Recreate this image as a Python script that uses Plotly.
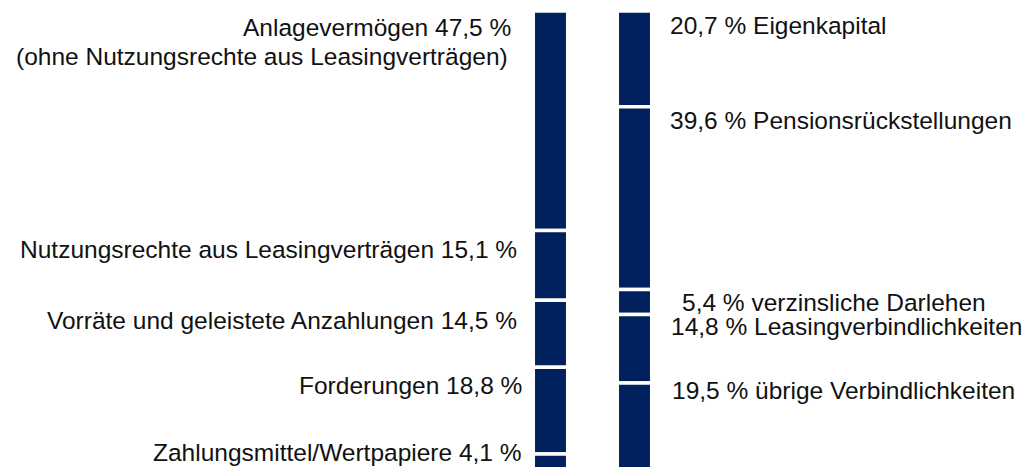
import plotly.graph_objects as go
import numpy as np

# ---- data ----
asset_names = ["Anlagevermögen", "Nutzungsrechte aus Leasingverträgen",
               "Vorräte und geleistete Anzahlungen", "Forderungen",
               "Zahlungsmittel/Wertpapiere"]
asset_values = [47.5, 15.1, 14.5, 18.8, 4.1]
asset_note = "(ohne Nutzungsrechte aus Leasingverträgen)"

liab_names = ["Eigenkapital", "Pensionsrückstellungen", "verzinsliche Darlehen",
              "Leasingverbindlichkeiten", "übrige Verbindlichkeiten"]
liab_values = [20.7, 39.6, 5.4, 14.8, 19.5]

# ---- layout helpers ----
OFF = 8                      # page body margin
W, H = 1032 - OFF, 467 - OFF
TOP = 11 - OFF               # figure pixel of value 0
PX_PER = 4.62                # pixels per percent
Y_BOTTOM = (H - TOP) / PX_PER
PX_PER_X = 84.0
X0 = -(550.5 - OFF) / PX_PER_X
X1 = X0 + W / PX_PER_X
PAD = 3                      # annotation inner padding

def ydata(py):               # py: window pixel
    return (py - OFF - TOP) / PX_PER

def xpaper(px):              # px: window pixel
    return (px - OFF) / W

def fmt(v):
    return f"{v:.1f}".replace(".", ",")

NAVY = "#00215E"
FONT = dict(family="Liberation Sans, Arial, sans-serif", size=24.5, color="#111111")

fig = go.Figure()
for xpos, vals in ((0, asset_values), (1, liab_values)):
    bases = np.concatenate([[0], np.cumsum(vals)[:-1]])
    fig.add_trace(go.Bar(
        x=[xpos] * len(vals), y=vals, base=bases, width=0.41,
        marker=dict(color=NAVY, line=dict(color="white", width=3.5)),
        hoverinfo="skip", showlegend=False))

# label texts
left_texts = [f"{n} {fmt(v)} %" for n, v in zip(asset_names, asset_values)]
left_texts.insert(1, asset_note)
right_texts = [f"{fmt(v)} % {n}" for n, v in zip(liab_names, liab_values)]

# label placement (window pixels: text edge x, text centre y)
left_pos = [(510, 27), (507, 56), (516, 249), (516, 320), (521, 385), (521, 452)]
right_pos = [(671, 25), (671, 120), (683, 302), (672, 326), (673, 390)]

for t, (px, py) in zip(left_texts, left_pos):
    fig.add_annotation(text=t, x=xpaper(px + PAD), xref="paper", y=ydata(py), yref="y",
                       xanchor="right", yanchor="middle", align="right",
                       showarrow=False, font=FONT)
for t, (px, py) in zip(right_texts, right_pos):
    fig.add_annotation(text=t, x=xpaper(px - PAD), xref="paper", y=ydata(py), yref="y",
                       xanchor="left", yanchor="middle", align="left",
                       showarrow=False, font=FONT)

fig.update_layout(
    width=W, height=H, barmode="overlay",
    margin=dict(l=0, r=0, t=TOP, b=0),
    paper_bgcolor="white", plot_bgcolor="white",
    xaxis=dict(range=[X0, X1], visible=False, fixedrange=True),
    yaxis=dict(range=[Y_BOTTOM, 0], visible=False, fixedrange=True),
)
fig.write_html("out.html")
